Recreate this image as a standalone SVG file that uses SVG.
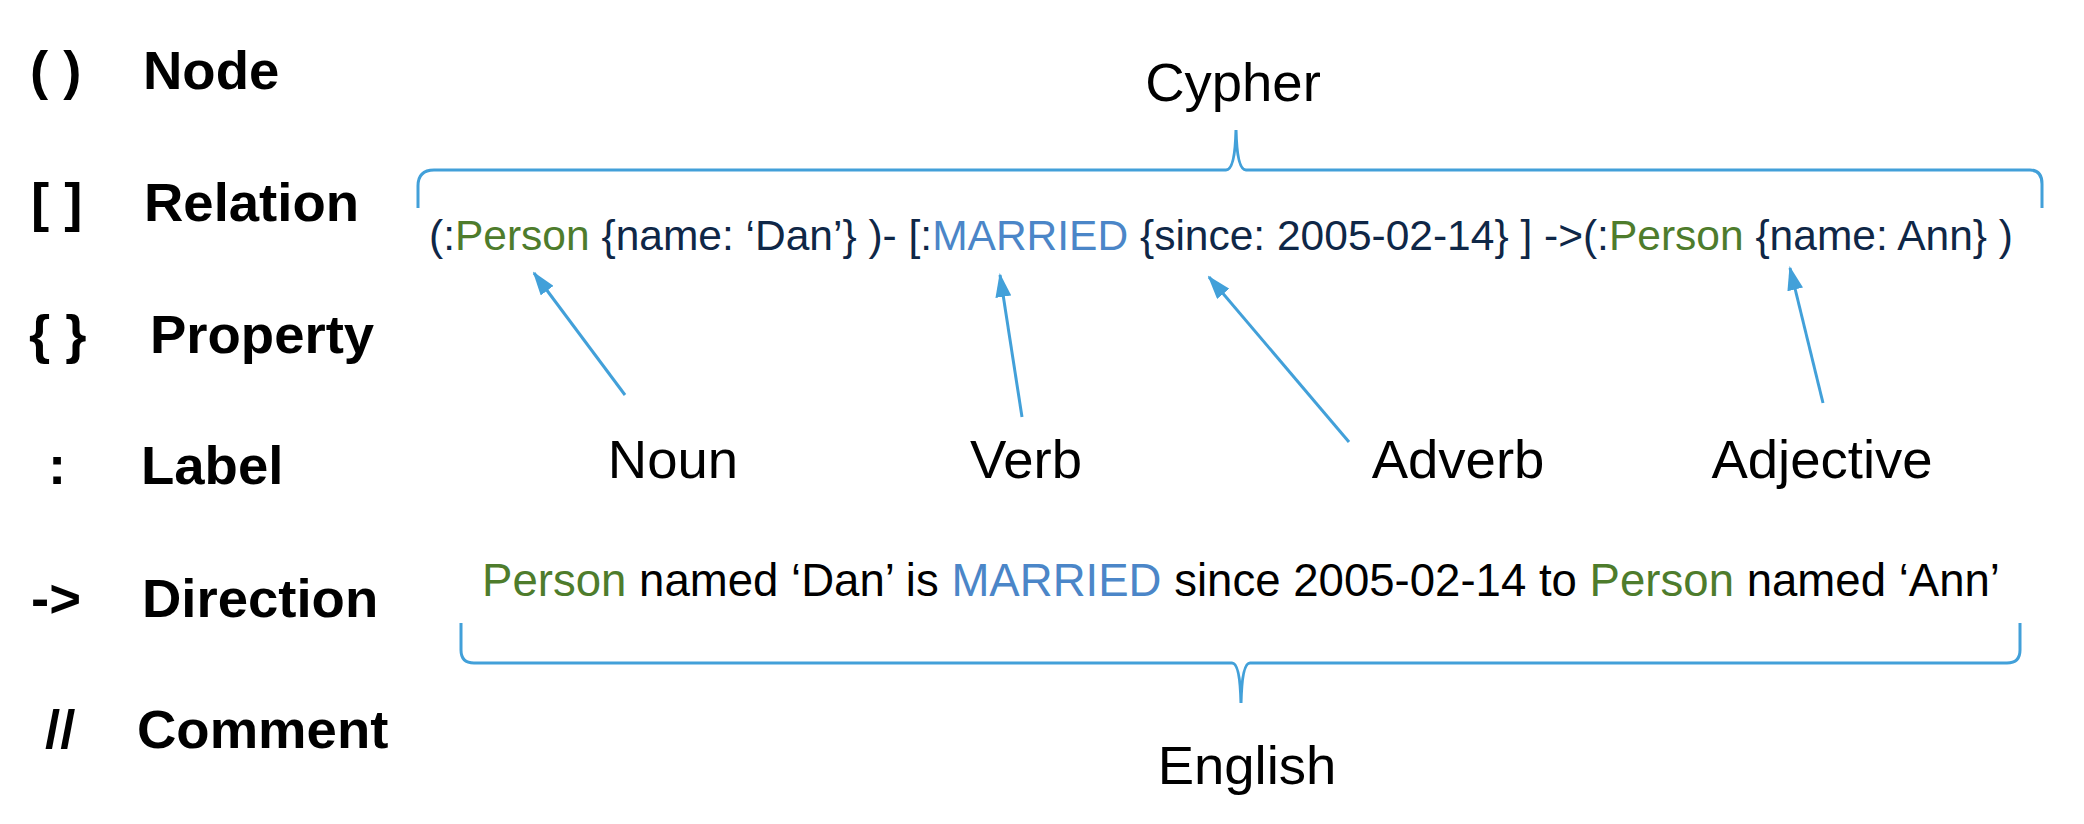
<svg xmlns="http://www.w3.org/2000/svg" width="2084" height="824" viewBox="0 0 2084 824">
<defs>
<style>
.leg{font-family:"Liberation Sans",Arial,sans-serif;font-weight:bold;font-size:54.5px;fill:#000}
.lbl{font-family:"Liberation Sans",Arial,sans-serif;font-size:54.5px;fill:#000;text-anchor:middle}
.code{font-family:"Liberation Sans",Arial,sans-serif;font-size:42.5px;fill:#0f2747}
.eng{font-family:"Liberation Sans",Arial,sans-serif;font-size:45.5px;fill:#000}
.g{fill:#4e7c2c}
.b{fill:#4b86c8}
.brace{fill:none;stroke:#42a0d9;stroke-width:3}
.arr{stroke:#42a0d9;stroke-width:3;marker-end:url(#ah)}
</style>
<marker id="ah" viewBox="0 0 24 16" refX="22" refY="8" markerWidth="24" markerHeight="16" markerUnits="userSpaceOnUse" orient="auto">
<path d="M0,0 L24,8 L0,16 z" fill="#42a0d9"/>
</marker>
</defs>
<rect width="2084" height="824" fill="#fff"/>

<g id="legend">
<g id="leg-node"><text class="leg" x="30" y="89">( )</text><text class="leg" x="143" y="89">Node</text></g>
<g id="leg-relation"><text class="leg" x="31" y="221">[ ]</text><text class="leg" x="144" y="221">Relation</text></g>
<g id="leg-property"><text class="leg" x="29" y="353">{ }</text><text class="leg" x="150" y="353">Property</text></g>
<g id="leg-label"><text class="leg" x="48" y="484">:</text><text class="leg" x="141" y="484">Label</text></g>
<g id="leg-direction"><text class="leg" x="31" y="617">-&gt;</text><text class="leg" x="142" y="617">Direction</text></g>
<g id="leg-comment"><text class="leg" x="45" y="748">//</text><text class="leg" x="137" y="748">Comment</text></g>
</g>

<g id="cypher-title"><text class="lbl" x="1233" y="101" style="font-size:54.5px">Cypher</text></g>

<g id="cypher-code">
<text class="code" x="429" y="250" textLength="1584" lengthAdjust="spacingAndGlyphs">(:<tspan class="g">Person</tspan> {name: ‘Dan’} )- [:<tspan class="b">MARRIED</tspan> {since: 2005-02-14} ] -&gt;(:<tspan class="g">Person</tspan> {name: Ann} )</text>
</g>

<g id="pos-noun"><text class="lbl" x="673" y="478">Noun</text></g>
<g id="pos-verb"><text class="lbl" x="1026" y="478">Verb</text></g>
<g id="pos-adverb"><text class="lbl" x="1458" y="478">Adverb</text></g>
<g id="pos-adjective"><text class="lbl" x="1822" y="478">Adjective</text></g>

<g id="english-sentence">
<text class="eng" x="482" y="596" textLength="1518" lengthAdjust="spacingAndGlyphs"><tspan class="g">Person</tspan> named ‘Dan’ is <tspan class="b">MARRIED</tspan> since 2005-02-14 to <tspan class="g">Person</tspan> named ‘Ann’</text>
</g>

<g id="english-title"><text class="lbl" x="1247" y="784">English</text></g>

<g id="connectors">
<path class="brace" d="M418,208 L418,186 Q418,170 434,170 L1226,170 Q1235,170 1236,130 Q1237,170 1246,170 L2030,170 Q2042,170 2042,184 L2042,208"/>
<path class="brace" d="M461,623 L461,650 Q461,663 474,663 L1232,663 Q1240,663 1241,703 Q1242,663 1250,663 L2007,663 Q2020,663 2020,650 L2020,623"/>
<line class="arr" x1="625" y1="395" x2="534" y2="273"/>
<line class="arr" x1="1022" y1="417" x2="1000" y2="275"/>
<line class="arr" x1="1349" y1="442" x2="1209" y2="277"/>
<line class="arr" x1="1823" y1="403" x2="1790" y2="268"/>
</g>
</svg>
